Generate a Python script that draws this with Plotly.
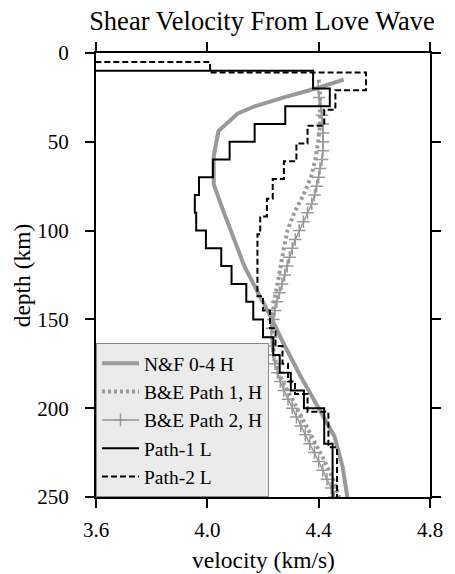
import plotly.graph_objects as go

# ---------------- data ----------------
# N&F 0-4 H (smooth model)
nf_depth = [15, 20, 25, 30, 34, 44, 58, 74, 90, 104, 120, 134, 148, 163, 182, 200, 216, 233, 250]
nf_vel = [4.49, 4.39, 4.275, 4.17, 4.11, 4.04, 4.023, 4.023, 4.06, 4.095, 4.133, 4.179, 4.226, 4.272, 4.335, 4.40, 4.457, 4.486, 4.503]

# B&E Path 1, H
be1_depth = [15, 20, 30, 40, 50, 60, 70, 80, 90, 100, 110, 120, 130, 140, 150, 160, 170, 180, 190, 200, 210, 220, 230, 240, 250]
be1_vel = [4.40, 4.405, 4.405, 4.405, 4.398, 4.388, 4.372, 4.345, 4.312, 4.288, 4.275, 4.265, 4.252, 4.240, 4.232, 4.232, 4.24, 4.254, 4.29, 4.322, 4.355, 4.39, 4.422, 4.452, 4.474]

# B&E Path 2, H
be2_depth = [20, 25, 30, 35, 40, 45, 50, 55, 60, 65, 70, 75, 80, 85, 90, 95, 100, 105, 110, 115, 120, 125, 130, 135, 140, 145, 150, 155, 160, 165, 170, 175, 180, 185, 190, 195, 200, 205, 210, 215, 220, 225, 230, 235, 240, 245, 250]
be2_vel = [4.398, 4.402, 4.408, 4.412, 4.415, 4.416, 4.416, 4.415, 4.412, 4.405, 4.40, 4.393, 4.385, 4.375, 4.36, 4.345, 4.33, 4.316, 4.305, 4.295, 4.287, 4.278, 4.268, 4.259, 4.25, 4.243, 4.237, 4.232, 4.23, 4.232, 4.236, 4.243, 4.252, 4.262, 4.275, 4.29, 4.305, 4.32, 4.336, 4.352, 4.368, 4.385, 4.40, 4.415, 4.43, 4.445, 4.457]

# Path-1 L (layered model: layer tops and velocities)
p1_top = [0, 10, 20, 30, 40, 50, 60, 70, 80, 90, 100, 110, 120, 130, 140, 150, 160, 170, 180, 190, 200, 220, 250]
p1_vel = [3.5, 4.38, 4.44, 4.28, 4.17, 4.08, 4.02, 3.97, 3.955, 3.96, 3.995, 4.05, 4.087, 4.14, 4.165, 4.20, 4.237, 4.26, 4.30, 4.347, 4.42, 4.45, 4.45]

# Path-2 L (layered model)
p2_top = [0, 5, 11, 21, 32, 41, 51, 61, 71, 82, 92, 102, 137, 145, 155, 165, 175, 185, 192, 202, 222, 250]
p2_vel = [3.5, 4.01, 4.57, 4.46, 4.42, 4.36, 4.32, 4.275, 4.235, 4.214, 4.19, 4.18, 4.20, 4.225, 4.245, 4.27, 4.29, 4.315, 4.36, 4.435, 4.466, 4.466]

x_ticks = [3.6, 4.0, 4.4, 4.8]
y_ticks = [0, 50, 100, 150, 200, 250]

GREY = "#999999"
FONT = "Liberation Serif"

fig = go.Figure()
fig.add_trace(go.Scatter(x=nf_vel, y=nf_depth, mode="lines", name="N&F 0-4 H",
                         line=dict(color=GREY, width=4)))
fig.add_trace(go.Scatter(x=be1_vel, y=be1_depth, mode="lines", name="B&E Path 1, H",
                         line=dict(color=GREY, width=4, dash="3px,3px")))
fig.add_trace(go.Scatter(x=be2_vel, y=be2_depth, mode="lines+markers", name="B&E Path 2, H",
                         line=dict(color=GREY, width=1.5),
                         marker=dict(symbol="cross-thin", size=9, color=GREY,
                                     line=dict(color=GREY, width=1.5))))
fig.add_trace(go.Scatter(x=p1_vel, y=p1_top, mode="lines", name="Path-1 L", line_shape="vh",
                         line=dict(color="black", width=2)))
fig.add_trace(go.Scatter(x=p2_vel, y=p2_top, mode="lines", name="Path-2 L", line_shape="vh",
                         line=dict(color="black", width=2, dash="6px,3px")))

axis_common = dict(showgrid=False, zeroline=False, showline=True, linecolor="black", linewidth=2,
                   mirror="ticks", ticks="outside", ticklen=9, tickwidth=1.5, tickcolor="black",
                   tickfont=dict(family=FONT, size=21, color="black"))

fig.update_layout(
    width=455, height=574,
    margin=dict(l=96, r=13, t=53, b=77),
    paper_bgcolor="white", plot_bgcolor="white",
    font=dict(family=FONT, color="black"),
    title=dict(text="Shear Velocity From Love Wave", font=dict(family=FONT, size=26.5, color="black"),
               xref="container", x=262 / 455, xanchor="center",
               yref="container", y=1 - 21 / 574, yanchor="middle"),
    xaxis=dict(range=[3.6, 4.8], tickvals=x_ticks, ticktext=[f"{v:.1f}" for v in x_ticks],
               ticklabelstandoff=4, **axis_common),
    yaxis=dict(range=[250, 0], tickvals=y_ticks, ticktext=[str(v) for v in y_ticks],
               ticklabelstandoff=12, **axis_common),
    showlegend=True,
    legend=dict(x=0, y=0, xanchor="left", yanchor="bottom", bgcolor="#ebebeb",
                bordercolor="#888888", borderwidth=1, font=dict(family=FONT, size=19.5, color="black"),
                itemwidth=37, tracegroupgap=0),
    annotations=[
        dict(text="velocity (km/s)", xref="paper", yref="paper", x=0.5, y=-(560 - 496.7) / 443.4,
             xanchor="center", yanchor="middle", showarrow=False,
             font=dict(family=FONT, size=23.5, color="black")),
        dict(text="depth (km)", xref="paper", yref="paper", x=(20 - 96.3) / 346, y=0.5,
             xanchor="center", yanchor="middle", textangle=-90, showarrow=False,
             font=dict(family=FONT, size=23.5, color="black")),
    ],
)

fig.write_html("out.html")
